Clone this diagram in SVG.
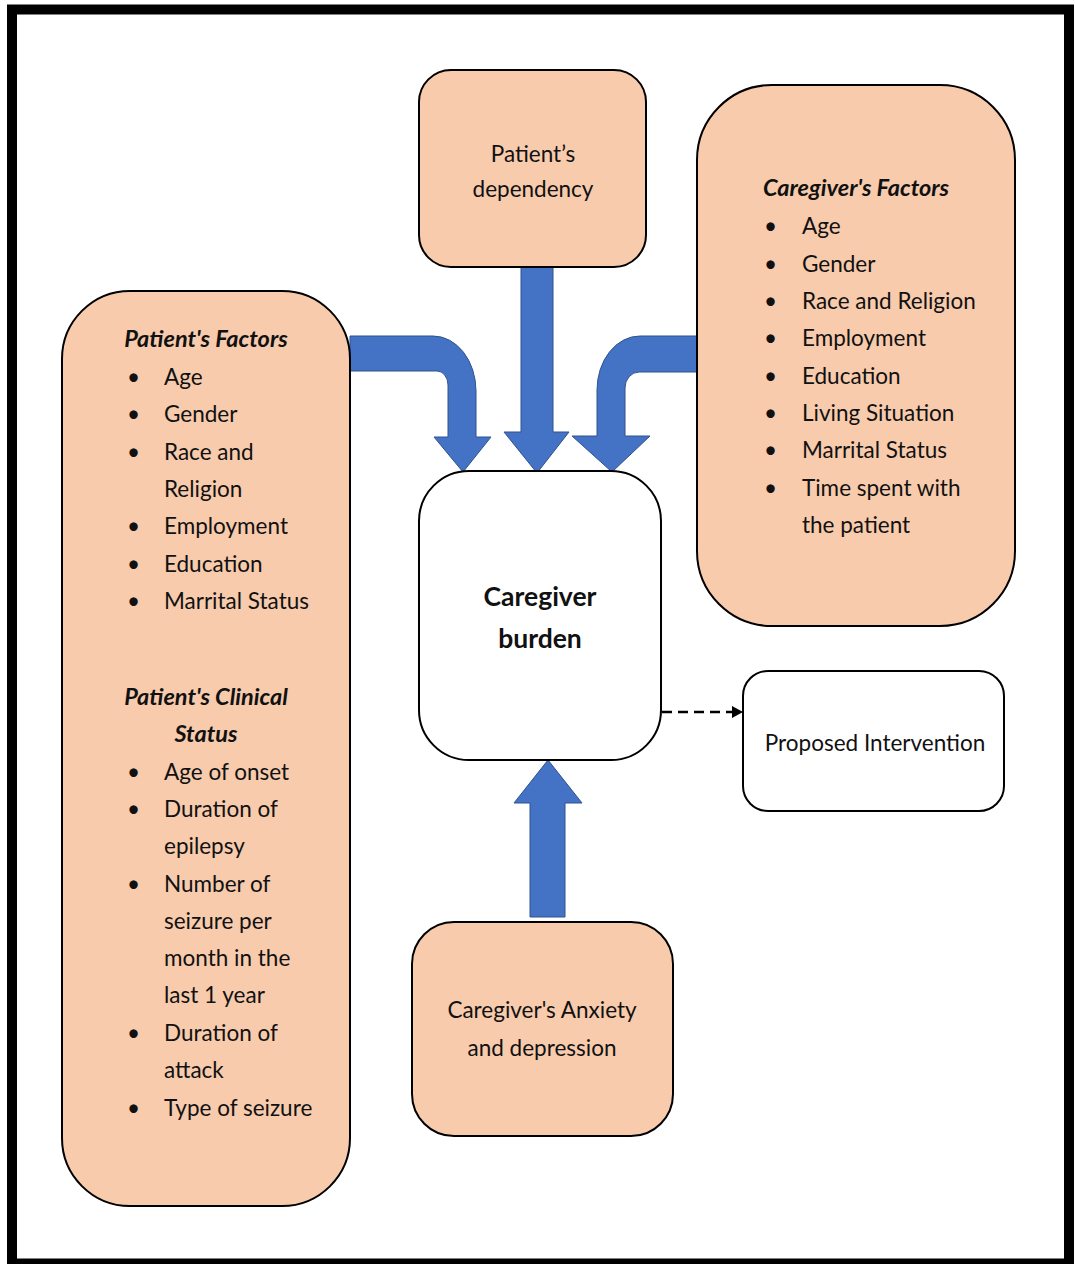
<svg xmlns="http://www.w3.org/2000/svg" width="1075" height="1264" viewBox="0 0 1075 1264">
<defs>
<style>
.box{fill:#F8CBAD;stroke:#000;stroke-width:2}
.wbox{fill:#fff;stroke:#000;stroke-width:2}
.t{font-family:Lato,"Open Sans","Liberation Sans",sans-serif;font-size:22.5px;fill:#111}
.c{text-anchor:middle}
.h{font-weight:bold;font-style:italic;font-size:23.5px}
.b{font-weight:bold;font-size:26.5px}
.arr{fill:#4472C4;stroke:#2F528F;stroke-width:1}
</style>
<marker id="tri" viewBox="0 0 10 10" refX="10" refY="5" markerWidth="11" markerHeight="12" markerUnits="userSpaceOnUse" orient="auto" preserveAspectRatio="none">
<path d="M0,0 L10,5 L0,10 Z" fill="#000"/>
</marker>
</defs>
<rect x="0" y="0" width="1075" height="1264" fill="#fff"/>
<rect x="12" y="9.5" width="1057" height="1254" fill="none" stroke="#000" stroke-width="10"/>

<g id="connectors">
<path class="arr" d="M350,336 L433,336 A43,55 0 0 1 476,391 L476,437 L491,437 L463,472 L434,437 L448,437 L448,385 A11,14 0 0 0 437,371 L350,371 Z"/>
<path class="arr" d="M521,266 L553,266 L553,432 L569,432 L537,473 L504,432 L521,432 Z"/>
<path class="arr" d="M698,336 L640,336 A43,54 0 0 0 597,390 L597,436 L572,436 L612,472 L650,436 L625,436 L625,388 A14,16 0 0 1 639,372 L698,372 Z"/>
<path class="arr" d="M530,917 L565,917 L565,803 L582,803 L548,760 L514,803 L530,803 Z"/>
<line x1="662" y1="712" x2="743" y2="712" stroke="#000" stroke-width="2.5" stroke-dasharray="10,6" marker-end="url(#tri)"/>
</g>

<g id="patient-dependency">
<rect class="box" x="419" y="70" width="227" height="197" rx="32"/>
<text class="t c" x="533" y="162">Patient’s</text>
<text class="t c" x="533" y="197">dependency</text>
</g>

<g id="caregiver-factors">
<rect class="box" x="697" y="85" width="318" height="541" rx="75"/>
<text class="t c h" x="856" y="196">Caregiver's Factors</text>
<text class="t" x="764" y="234">•</text><text class="t" x="802" y="234">Age</text>
<text class="t" x="764" y="272">•</text><text class="t" x="802" y="272">Gender</text>
<text class="t" x="764" y="309">•</text><text class="t" x="802" y="309">Race and Religion</text>
<text class="t" x="764" y="346">•</text><text class="t" x="802" y="346">Employment</text>
<text class="t" x="764" y="384">•</text><text class="t" x="802" y="384">Education</text>
<text class="t" x="764" y="421">•</text><text class="t" x="802" y="421">Living Situation</text>
<text class="t" x="764" y="458">•</text><text class="t" x="802" y="458">Marrital Status</text>
<text class="t" x="764" y="496">•</text><text class="t" x="802" y="496">Time spent with</text>
<text class="t" x="802" y="533">the patient</text>
</g>

<g id="patient-factors">
<rect class="box" x="62" y="291" width="288" height="915" rx="68"/>
<text class="t c h" x="206" y="347">Patient's Factors</text>
<text class="t" x="127" y="385">•</text><text class="t" x="164" y="385">Age</text>
<text class="t" x="127" y="422">•</text><text class="t" x="164" y="422">Gender</text>
<text class="t" x="127" y="460">•</text><text class="t" x="164" y="460">Race and</text>
<text class="t" x="164" y="497">Religion</text>
<text class="t" x="127" y="534">•</text><text class="t" x="164" y="534">Employment</text>
<text class="t" x="127" y="572">•</text><text class="t" x="164" y="572">Education</text>
<text class="t" x="127" y="609">•</text><text class="t" x="164" y="609">Marrital Status</text>
<text class="t c h" x="206" y="705">Patient's Clinical</text>
<text class="t c h" x="206" y="742">Status</text>
<text class="t" x="127" y="780">•</text><text class="t" x="164" y="780">Age of onset</text>
<text class="t" x="127" y="817">•</text><text class="t" x="164" y="817">Duration of</text>
<text class="t" x="164" y="854">epilepsy</text>
<text class="t" x="127" y="892">•</text><text class="t" x="164" y="892">Number of</text>
<text class="t" x="164" y="929">seizure per</text>
<text class="t" x="164" y="966">month in the</text>
<text class="t" x="164" y="1003">last 1 year</text>
<text class="t" x="127" y="1041">•</text><text class="t" x="164" y="1041">Duration of</text>
<text class="t" x="164" y="1078">attack</text>
<text class="t" x="127" y="1116">•</text><text class="t" x="164" y="1116">Type of seizure</text>
</g>

<g id="caregiver-burden">
<rect class="wbox" x="419" y="471" width="242" height="289" rx="50"/>
<text class="t c b" x="540" y="606">Caregiver</text>
<text class="t c b" x="540" y="648">burden</text>
</g>

<g id="proposed-intervention">
<rect class="wbox" x="743" y="671" width="261" height="140" rx="25"/>
<text class="t c" x="875" y="751">Proposed Intervention</text>
</g>

<g id="caregiver-anxiety">
<rect class="box" x="412" y="922" width="261" height="214" rx="42"/>
<text class="t c" x="542" y="1018">Caregiver's Anxiety</text>
<text class="t c" x="542" y="1056">and depression</text>
</g>
</svg>
